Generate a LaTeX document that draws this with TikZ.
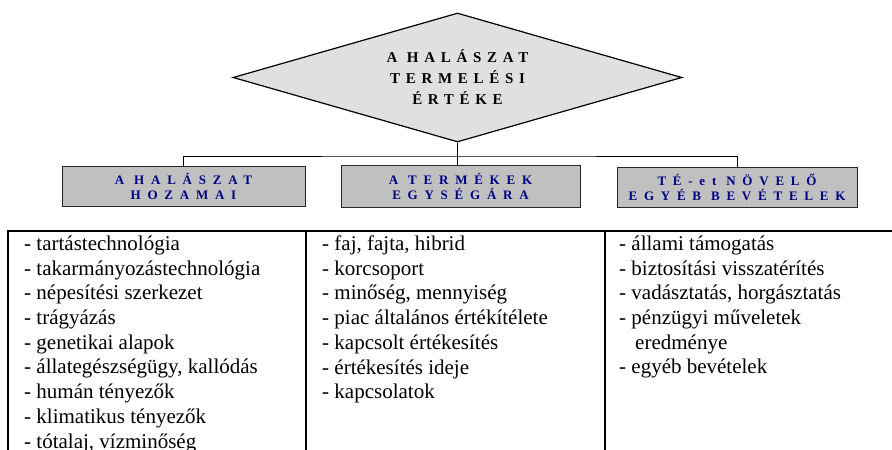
\documentclass[tikz,border=0pt]{standalone}
\usepackage{fontspec}
\setmainfont{Liberation Serif}
\newfontfamily\diacaps{Liberation Serif}[LetterSpace=38]
\newfontfamily\boxcaps{Liberation Serif}[LetterSpace=52]
\usepackage{tikz}
\usetikzlibrary{shapes.geometric}
\definecolor{boxgray}{RGB}{192,192,192}
\definecolor{diagray}{RGB}{224,224,224}
\definecolor{capblue}{RGB}{0,0,128}
\tikzset{
  headbox/.style={draw=black!85, line width=0.9pt, fill=boxgray, minimum height=40pt, inner sep=0pt, align=center, text=capblue, font=\boxcaps\bfseries\fontsize{13}{15}\selectfont},
  itemlist/.style={anchor=north west, inner sep=0pt, align=left, font=\fontsize{21}{24.7}\selectfont}
}

\begin{document}
\begin{tikzpicture}[x=1pt, y=-1pt]
\useasboundingbox (0,0) rectangle (892,450);

\node[diamond, draw, line width=1.2pt, fill=diagray, minimum width=449pt, minimum height=129pt, shape aspect=3.5, inner sep=0pt, align=center, font=\diacaps\bfseries\fontsize{15}{21}\selectfont] (dia) at (457.5,77.5) {A HALÁSZAT\\TERMELÉSI\\ÉRTÉKE};

\node[headbox, minimum width=243pt] (hozam) at (183.5,186.5) {A HALÁSZAT\\HOZAMAI};
\node[headbox, minimum width=239pt, minimum height=42pt] (ear) at (460.5,186) {A TERMÉKEK\\EGYSÉGÁRA};
\node[headbox, minimum width=240pt] (egyeb) at (737,187) {TÉ-et NÖVELŐ\\EGYÉB BEVÉTELEK};

\coordinate (bus) at (457,156);
\draw[line width=0.8pt] (hozam.north) |- (bus) -| (egyeb.north);
\draw[line width=0.8pt] (dia.south) -- (dia.south |- ear.north);

\draw[line width=1.5pt] (8,450) -- (8,231) -- (892,231);
\draw[line width=1.5pt] (306,231) -- (306,450);
\draw[line width=1.5pt] (605,231) -- (605,450);

\node[itemlist] (lista) at (24,235.6) {- tartástechnológia\\- takarmányozástechnológia\\- népesítési szerkezet\\- trágyázás\\- genetikai alapok\\- állategészségügy, kallódás\\- humán tényezők\\- klimatikus tényezők\\- tótalaj, vízminőség};
\node[itemlist] (listb) at (322,235.6) {- faj, fajta, hibrid\\- korcsoport\\- minőség, mennyiség\\- piac általános értékítélete\\- kapcsolt értékesítés\\- értékesítés ideje\\- kapcsolatok};
\node[itemlist] (listc) at (619,235.6) {- állami támogatás\\- biztosítási visszatérítés\\- vadásztatás, horgásztatás\\- pénzügyi műveletek\\\hspace{16pt}eredménye\\- egyéb bevételek};
\end{tikzpicture}
\end{document}
